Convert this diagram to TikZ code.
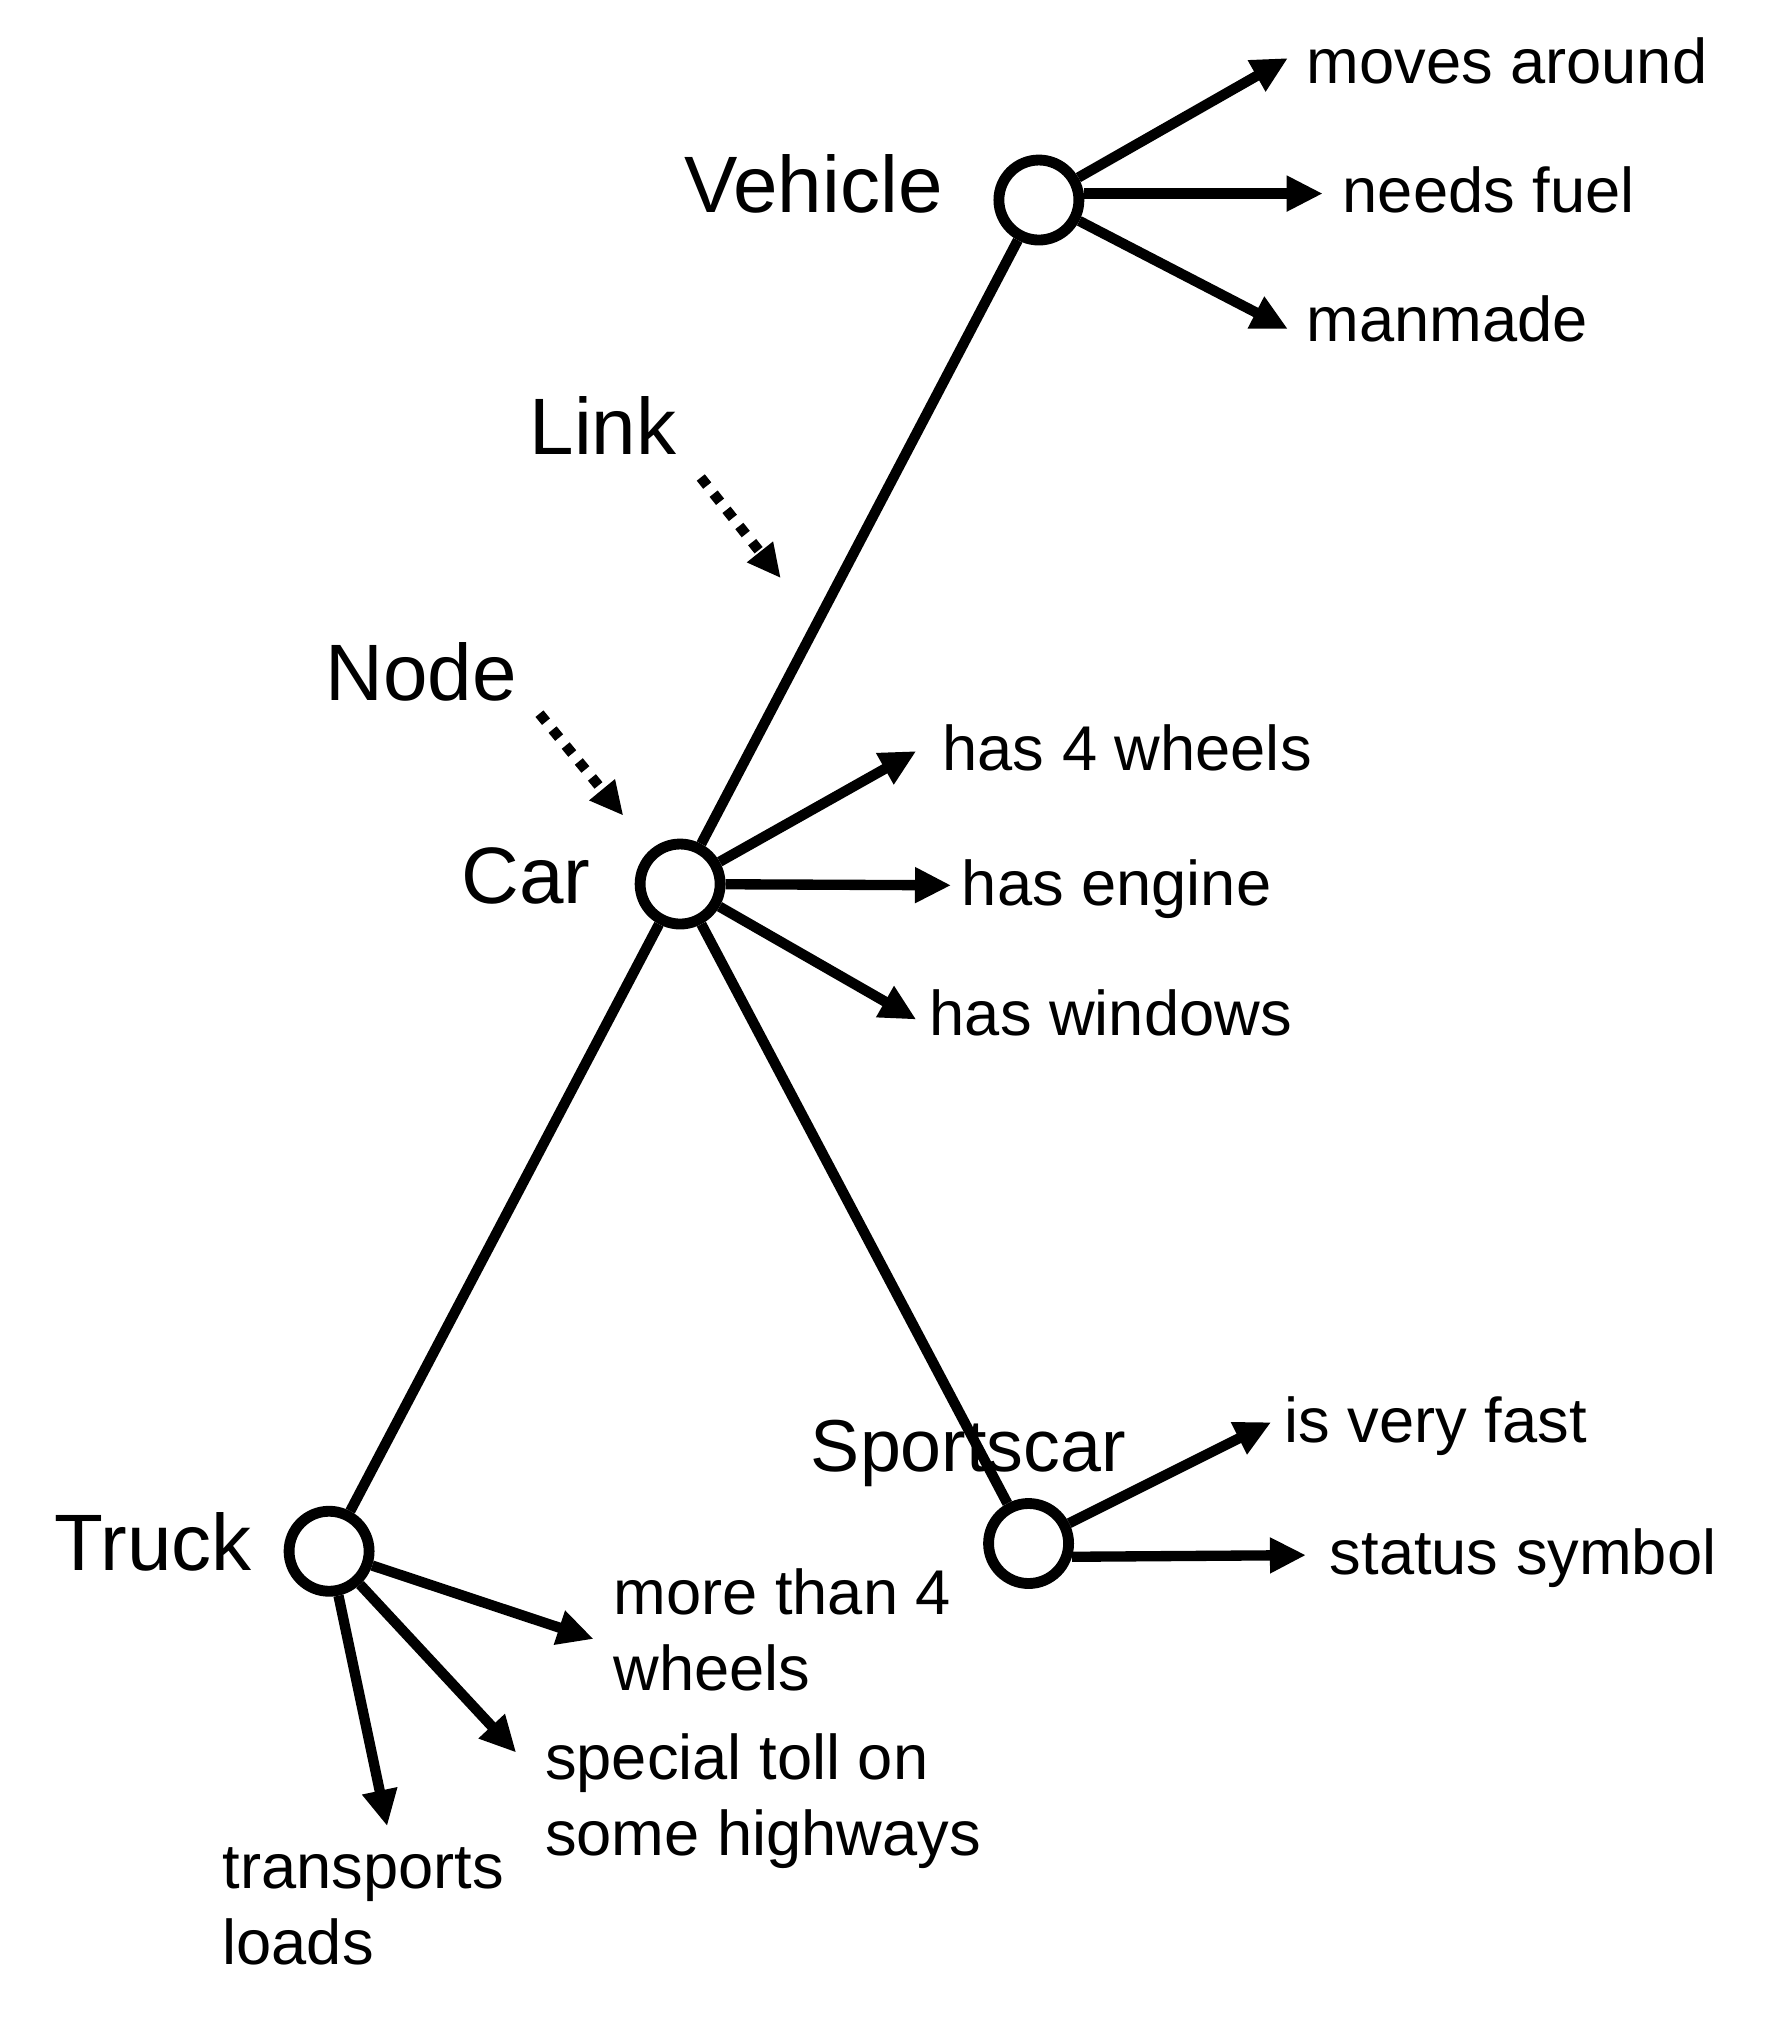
\documentclass[tikz,border=0pt]{standalone}
\usepackage{fontspec}
\setmainfont{Liberation Sans}
\usetikzlibrary{arrows.meta}
\begin{document}
\begin{tikzpicture}[x=0.5pt,y=-0.5pt,
  concept/.style={circle,draw,line width=4.2pt,minimum size=31pt,inner sep=0pt,fill=white},
  big/.style={font=\fontsize{31}{37}\selectfont,inner sep=0pt,anchor=base west},
  mid/.style={font=\fontsize{28.5}{34}\selectfont,inner sep=0pt,anchor=base west},
  item/.style={font=\fontsize{24.5}{29.5}\selectfont,inner sep=0pt,anchor=base west,align=left},
  link/.style={line width=4pt},
  prop/.style={line width=4pt,-{Triangle[length=14pt,width=13pt]}},
  hint/.style={line width=4pt,dash pattern=on 4pt off 4pt,-{Triangle[length=13pt,width=12pt]}}]
\useasboundingbox (0,0) rectangle (1371,1566);

% labels
\node[big] (lveh) at (530,165) {Vehicle};
\node[big] (llink) at (410,352) {Link};
\node[big] (lnode) at (252,543) {Node};
\node[big] (lcar) at (357,700) {Car};
\node[big] (ltruck) at (42,1217) {Truck};
\node[mid] (lsport) at (628,1140) {Sportscar};

\node[item] (t1) at (1012,65) {moves around};
\node[item] (t2) at (1040,165) {needs fuel};
\node[item] (t3) at (1012,265) {manmade};
\node[item] (t4) at (730,597) {has 4 wheels};
\node[item] (t5) at (745,702) {has engine};
\node[item] (t6) at (720,802) {has windows};
\node[item] (t7) at (995,1118) {is very fast};
\node[item] (t8) at (1030,1220) {status symbol};
\node[item] (t9) at (475,1310) {more than 4\\wheels};
\node[item] (t10) at (422,1438) {special toll on\\some highways};
\node[item] (t11) at (172,1522) {transports\\loads};

% concept circles
\node[concept] (veh) at (805,155) {};
\node[concept] (car) at (527,685) {};
\node[concept] (truck) at (255,1202) {};
\node[concept] (sport) at (797,1196) {};

% arrow tips
\coordinate (a1) at (998,45);
\coordinate (a2) at (1025,150);
\coordinate (a3) at (998,255);
\coordinate (a4) at (710,582);
\coordinate (a5) at (737,686);
\coordinate (a6) at (710,790);
\coordinate (a7) at (985,1102);
\coordinate (a8) at (1012,1205);
\coordinate (a9) at (460,1270);
\coordinate (a10) at (400,1358);
\coordinate (a11) at (300,1415);

% links
\draw[link] (veh) -- (car);
\draw[link] (car) -- (truck);
\draw[link] (car) -- (sport);

% properties
\draw[prop] (veh) -- (a1);
\draw[prop] (veh.east |- a2) -- (a2);
\draw[prop] (veh) -- (a3);
\draw[prop] (car) -- (a4);
\draw[prop] (car) -- (a5);
\draw[prop] (car) -- (a6);
\draw[prop] (sport) -- (a7);
\draw[prop] (sport.-17) -- (a8);
\draw[prop] (truck) -- (a9);
\draw[prop] (truck) -- (a10);
\draw[prop] (truck) -- (a11);

% pointers
\coordinate (p1) at (543,370);
\coordinate (p2) at (605,448);
\coordinate (p3) at (418,553);
\coordinate (p4) at (483,632);
\draw[hint] (p1) -- (p2);
\draw[hint] (p3) -- (p4);
\end{tikzpicture}
\end{document}
